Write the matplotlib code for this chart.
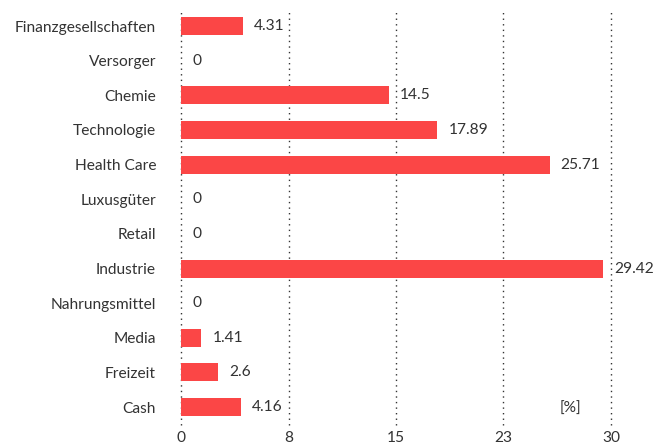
import matplotlib
matplotlib.use('Agg')
import matplotlib.pyplot as plt

categories = ["Finanzgesellschaften", "Versorger", "Chemie", "Technologie", "Health Care",
              "Luxusgüter", "Retail", "Industrie", "Nahrungsmittel", "Media", "Freizeit", "Cash"]
values = [4.31, 0, 14.5, 17.89, 25.71, 0, 0, 29.42, 0, 1.41, 2.6, 4.16]
value_labels = ["4.31", "0", "14.5", "17.89", "25.71", "0", "0", "29.42", "0", "1.41", "2.6", "4.16"]
ticks = [0, 7.5, 15, 22.5, 30]
tick_labels = ["0", "8", "15", "23", "30"]

plt.rcParams['font.family'] = ['Lato', 'DejaVu Sans']
txt = '#333333'
fs = 11.2

fig = plt.figure(figsize=(6.66, 4.48), dpi=100)
ax = fig.add_axes([0.2718, 0.0513, 0.6456, 0.9217])

y = range(len(categories))
ax.barh(y, values, height=0.52, color='#fb4646', zorder=2)
for i, (v, lab) in enumerate(zip(values, value_labels)):
    ax.annotate(lab, xy=(v, i), xytext=(8, 0), textcoords='offset points',
                va='center', ha='left', fontsize=fs, color=txt)

ax.set_xlim(0, 30)
ax.set_ylim(11.52, -0.405)
ax.set_yticks(list(y))
ax.set_yticklabels(categories, fontsize=fs, color=txt)
ax.set_xticks(ticks)
ax.set_xticklabels(tick_labels, fontsize=fs, color=txt)
ax.tick_params(length=0)
ax.tick_params(axis='x', pad=4)
ax.tick_params(axis='y', pad=18)
for s in ax.spines.values():
    s.set_visible(False)
ax.grid(axis='x', linestyle=(0, (1, 3)), color='#333333', linewidth=1, zorder=1)
for gl in ax.get_xgridlines():
    gl.set_clip_on(False)
ax.text(0.905, 0.04, "[%]", transform=ax.transAxes, fontsize=fs, color=txt, ha='center', va='center')

fig.savefig('out.png', dpi=100)
